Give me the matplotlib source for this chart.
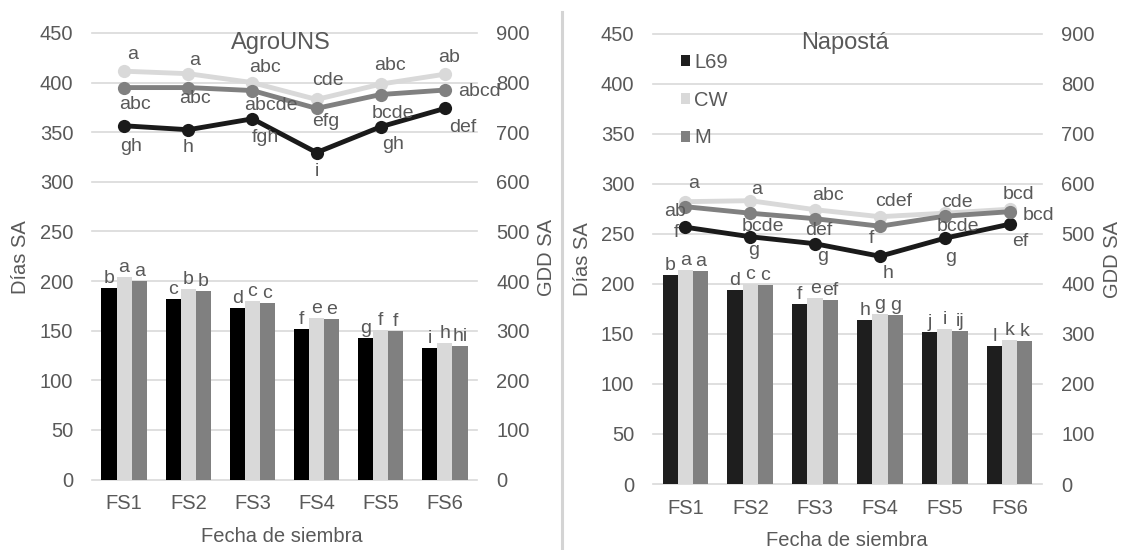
import matplotlib
matplotlib.use('Agg')
import matplotlib.pyplot as plt
import numpy as np

plt.rcParams['font.family'] = ['Liberation Sans', 'DejaVu Sans']

# ---------------- data ----------------
categories = ['FS1', 'FS2', 'FS3', 'FS4', 'FS5', 'FS6']
series_names = ['L69', 'CW', 'M']

# AgroUNS - days (left axis, bars)
agro_dias_L69 = [193, 181.5, 173, 152, 143, 133]
agro_dias_CW = [204, 192, 180, 163, 151, 138]
agro_dias_M = [200, 190, 178, 162, 150, 135]
# AgroUNS - GDD (right axis, lines)
agro_gdd_L69 = [713, 705, 727, 659, 711, 748]
agro_gdd_CW = [823, 818, 800, 766, 797, 817]
agro_gdd_M = [790, 790, 784, 748, 776, 785]
# AgroUNS letters
agro_bar_let_L69 = ['b', 'c', 'd', 'f', 'g', 'i']
agro_bar_let_CW = ['a', 'b', 'c', 'e', 'f', 'h']
agro_bar_let_M = ['a', 'b', 'c', 'e', 'f', 'hi']
agro_line_let_L69 = ['gh', 'h', 'fgh', 'i', 'gh', 'def']
agro_line_let_CW = ['a', 'a', 'abc', 'cde', 'abc', 'ab']
agro_line_let_M = ['abc', 'abc', 'abcde', 'efg', 'bcde', 'abcd']

# Napostá - days (left axis, bars)
nap_dias_L69 = [209, 194, 180, 164, 151.5, 137.5]
nap_dias_CW = [214, 200, 186, 170, 155, 144]
nap_dias_M = [213, 199, 184, 169, 153, 142.5]
# Napostá - GDD (right axis, lines)
nap_gdd_L69 = [513, 494, 480, 455, 491, 519]
nap_gdd_CW = [564, 566, 548, 534, 541, 549]
nap_gdd_M = [554, 541, 530, 515, 535, 544]
# Napostá letters
nap_bar_let_L69 = ['b', 'd', 'f', 'h', 'j', 'l']
nap_bar_let_CW = ['a', 'c', 'e', 'g', 'i', 'k']
nap_bar_let_M = ['a', 'c', 'ef', 'g', 'ij', 'k']
nap_line_let_L69 = ['f', 'g', 'g', 'h', 'g', 'ef']
nap_line_let_CW = ['a', 'a', 'abc', 'cdef', 'cde', 'bcd']
nap_line_let_M = ['ab', 'bcde', 'def', 'f', 'bcde', 'bcd']

yticks_left = [0, 50, 100, 150, 200, 250, 300, 350, 400, 450]
yticks_right = [0, 100, 200, 300, 400, 500, 600, 700, 800, 900]

# ---------------- label placement (pixel offsets) ----------------
agro_off = {
    'CW': [(9, 17), (6, 13), (13, 15), (11, 19), (9, 19), (4, 17)],
    'M': [(11, -17), (7, -11), (18, -15), (9, -13), (12, -19), (35, -1)],
    'L69': [(7, -21), (0, -18), (13, -19), (0, -19), (12, -18), (18, -19)],
}
nap_off = {
    'CW': [(8, 18), (6, 11), (13, 14), (14, 15), (12, 11), (9, 15)],
    'M': [(-10, -5), (13, -13), (4, -12), (-8, -12), (13, -10), (29, -4)],
    'L69': [(-9, -5), (3, -14), (8, -13), (8, -17), (6, -19), (11, -17)],
}

# ---------------- styles ----------------
W, H = 1128, 550
TXT = '#595959'
GRID = '#d9d9d9'
FS_TICK = 14.5
FS_LAB = 14
bar_colors_left = {'L69': '#000000', 'CW': '#d9d9d9', 'M': '#808080'}
bar_colors_right = {'L69': '#1e1e1e', 'CW': '#d9d9d9', 'M': '#808080'}
line_colors = {'L69': '#1a1a1a', 'CW': '#d9d9d9', 'M': '#808080'}

fig = plt.figure(figsize=(W / 100, H / 100), dpi=100)


def fx(px):
    return px / W


def fy(py):
    return 1 - py / H


def panel(rect, dias, gdd, bar_let, line_let, offs, bar_colors, legend=False):
    ax = fig.add_axes(rect)
    ax2 = ax.twinx()
    x = np.arange(len(categories))
    bw = 0.235
    shifts = {'L69': -bw, 'CW': 0.0, 'M': bw}
    containers = []
    for s in series_names:
        bc = ax.bar(x + shifts[s], dias[s], width=bw, color=bar_colors[s],
                    edgecolor='none', zorder=2, label=s)
        containers.append(bc)
        for xi, v, t in zip(x + shifts[s], dias[s], bar_let[s]):
            ax.annotate(t, (xi, v), xytext=(0, 5), textcoords='offset pixels',
                        ha='center', va='baseline', fontsize=FS_LAB, color=TXT,
                        zorder=5)
    ax.set_xlim(-0.5, len(categories) - 0.5)
    ax.set_ylim(0, 450)
    ax2.set_ylim(0, 900)
    ax.set_yticks(yticks_left)
    ax2.set_yticks(yticks_right)
    ax.set_xticks(x)
    ax.set_xticklabels(categories)
    for v in yticks_left:
        ax.axhline(v, color=GRID, lw=1.2, zorder=0, clip_on=False)
    for a in (ax, ax2):
        for sp in a.spines.values():
            sp.set_visible(False)
    ax.tick_params(axis='y', length=0, labelsize=FS_TICK, labelcolor=TXT, pad=13.5)
    ax.tick_params(axis='x', length=0, labelsize=FS_TICK, labelcolor=TXT, pad=10.5)
    ax2.tick_params(axis='y', length=0, labelsize=FS_TICK, labelcolor=TXT, pad=14)

    for s in ['L69', 'CW', 'M']:
        ax2.plot(x, gdd[s], color=line_colors[s], lw=3.5, marker='o', ms=9.5,
                 mew=0, solid_joinstyle='round', zorder=3)
    for s in ['L69', 'CW', 'M']:
        for xi, v, t, (dx, dy) in zip(x, gdd[s], line_let[s], offs[s]):
            ax2.annotate(t, (xi, v), xytext=(dx, dy), textcoords='offset pixels',
                         ha='center', va='center', fontsize=FS_LAB, color=TXT,
                         zorder=6)
    if legend:
        leg = ax2.legend(handles=containers, labels=series_names, loc='upper left',
                         bbox_to_anchor=(fx(681), fy(53)),
                         bbox_transform=fig.transFigure, frameon=False,
                         fontsize=FS_TICK, borderpad=0, borderaxespad=0,
                         handlelength=0.45, handleheight=0.45, handletextpad=0.2,
                         labelspacing=0.93)
        for t in leg.get_texts():
            t.set_color(TXT)
    return ax, ax2


left_rect = [fx(92), fy(479.5), fx(477) - fx(92), (479.5 - 33) / H]
right_rect = [fx(653), fy(484), fx(1042) - fx(653), (484 - 33.5) / H]

panel(left_rect,
      {'L69': agro_dias_L69, 'CW': agro_dias_CW, 'M': agro_dias_M},
      {'L69': agro_gdd_L69, 'CW': agro_gdd_CW, 'M': agro_gdd_M},
      {'L69': agro_bar_let_L69, 'CW': agro_bar_let_CW, 'M': agro_bar_let_M},
      {'L69': agro_line_let_L69, 'CW': agro_line_let_CW, 'M': agro_line_let_M},
      agro_off, bar_colors_left)
panel(right_rect,
      {'L69': nap_dias_L69, 'CW': nap_dias_CW, 'M': nap_dias_M},
      {'L69': nap_gdd_L69, 'CW': nap_gdd_CW, 'M': nap_gdd_M},
      {'L69': nap_bar_let_L69, 'CW': nap_bar_let_CW, 'M': nap_bar_let_M},
      {'L69': nap_line_let_L69, 'CW': nap_line_let_CW, 'M': nap_line_let_M},
      nap_off, bar_colors_right, legend=True)

# titles, axis labels
fig.text(fx(281), fy(43), 'AgroUNS', ha='center', va='center', fontsize=17, color=TXT)
fig.text(fx(845), fy(43), 'Napostá', ha='center', va='center', fontsize=17, color=TXT)
fig.text(fx(282), fy(537), 'Fecha de siembra', ha='center', va='center',
         fontsize=FS_TICK, color=TXT)
fig.text(fx(847), fy(540), 'Fecha de siembra', ha='center', va='center',
         fontsize=FS_TICK, color=TXT)
for px, py, t in [(20, 257, 'Días SA'), (547, 257, 'GDD SA'),
                  (582, 259, 'Días SA'), (1112, 259, 'GDD SA')]:
    fig.text(fx(px), fy(py), t, ha='center', va='center', rotation=90,
             fontsize=FS_TICK, color=TXT)

# separator between panels
fig.add_artist(plt.Line2D([fx(562), fx(562)], [fy(12), 0], color='#d4d4d4',
                          lw=2.2, transform=fig.transFigure))

fig.savefig('out.png', dpi=100)
